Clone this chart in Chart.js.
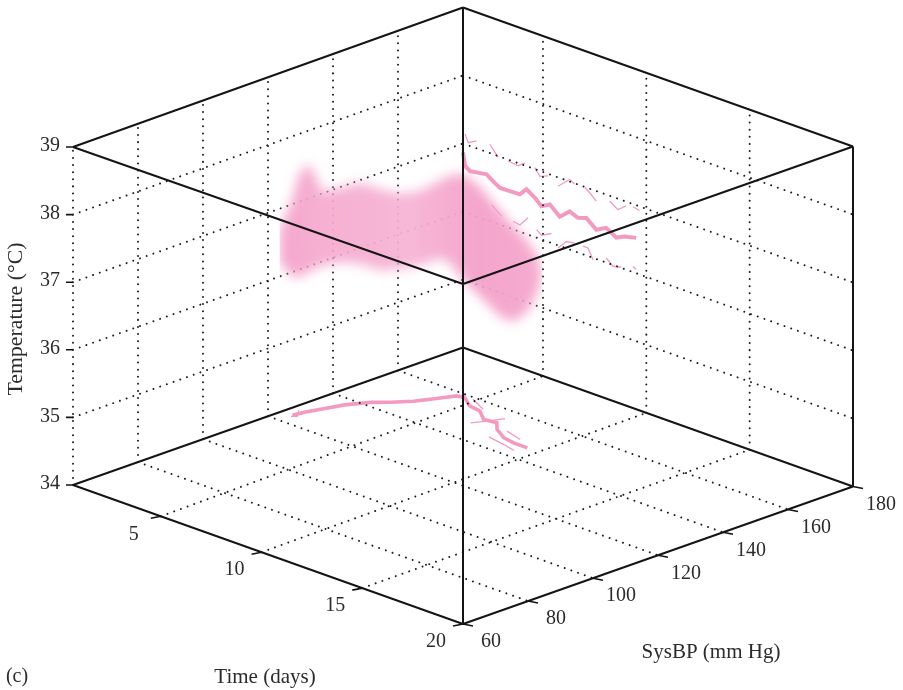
<!DOCTYPE html>
<html>
<head>
<meta charset="utf-8">
<style>
  body { margin: 0; background: #fff; }
  canvas { display: block; }
</style>
<script src="https://cdn.jsdelivr.net/npm/chart.js@4"></script>
</head>
<body>
<canvas id="chart" width="903" height="690"></canvas>
<script>
const timeTicks = [5, 10, 15, 20];
const bpTicks = [60, 80, 100, 120, 140, 160, 180];
const tempTicks = [34, 35, 36, 37, 38, 39];

// mean track, shown on the floor of the box
const floorTime = [1.43, 1.53, 1.78, 2.03, 2.52, 3.0, 3.5, 3.88, 4.2, 4.5, 5.2, 5.8, 6.45, 7.0, 7.46, 8.2, 8.78, 9.45];
const floorBP = [124.2, 127.7, 132.2, 136.8, 142, 145.1, 149, 153.8, 158, 158.6, 155.7, 155, 152, 152.6, 149.7, 147.1, 146.4, 146.4];

// thin strands beside the track on the floor, null = gap
const strandTime = [1.46, 1.62, 1.25, null, 4.83, 5.76, null, 6.36, 6.65, 6.93, null, 7.82, 8.71, null, 7.76, 8.65, 9.29];
const strandBP = [123.5, 124.5, 127.4, null, 159.1, 156.3, null, 148.5, 151.7, 155.6, null, 150.5, 148.9, null, 145.2, 144.2, 143.2];

// mean track, shown on the back wall (SysBP = 180)
const wallTime = [1.13, 1.23, 1.47, 2.27, 2.59, 2.92, 3.88, 4.2, 4.6, 4.93, 5.33, 5.81, 6.29, 6.69, 7.1, 7.58, 8.06, 8.55, 8.95, 9.51];
const wallTemp = [36.87, 36.68, 36.63, 36.67, 36.6, 36.54, 36.55, 36.66, 36.58, 36.49, 36.56, 36.43, 36.56, 36.51, 36.55, 36.43, 36.51, 36.42, 36.48, 36.52];

// broken band above and below it on the same wall
const wallHighTime = [1.23, 1.39, 1.79, null, 2.43, 2.83, null, 3.32, 3.8, 4.12, null, 4.6, 4.85, 5.25, null, 5.73, 6.29, 6.53, null, 7.02, 7.26, 7.58, null, 8.23, 8.63, 9.03, null, 9.35, 9.67];
const wallHighTemp = [37.15, 37.04, 37.11, null, 37.13, 36.98, null, 36.98, 36.96, 37.04, null, 37.02, 36.92, 36.97, null, 36.87, 37.03, 36.99, null, 36.99, 36.94, 36.85, null, 36.92, 36.84, 36.94, null, 36.96, 36.94];
const wallLowTime = [2.52, 3.0, null, 3.56, 3.88, 4.28, null, 4.69, 4.93, 5.41, null, 5.73, 6.13, 6.53, null, 6.94, 7.18, 7.42, null, 8.06, 8.38, 8.79, null, 9.35, 9.51];
const wallLowTemp = [36.25, 36.13, null, 36.12, 36.1, 36.25, null, 36.12, 36.06, 36.14, null, 35.96, 36.1, 36.12, null, 36.12, 36.12, 35.97, null, 36.07, 35.98, 36.01, null, 36.08, 36.06];

// the blurred tube itself
const blobTime = [1.3, 1.43, 1.46, 1.55, 1.65, 1.74, 1.99, 2.33, 2.76, 3.22, 3.61, 3.93, 4.1, 4.45, 5.6, 6.89, 7.82, 8.78, 9.45, 9.94, 10.2];
const blobBP = [121, 123.7, 126.1, 128.1, 130, 131.5, 136.1, 140, 143.5, 146.8, 150.4, 154.6, 156.6, 158.4, 155.3, 151.2, 148.4, 146.4, 146.4, 146.3, 146.2];
const blobHigh = [36.77, 37.14, 37.52, 37.66, 37.47, 37.2, 37.21, 37.25, 37.14, 37.06, 37.09, 37.2, 37.26, 37.29, 37.32, 37.31, 37.28, 37.2, 37.05, 36.9, 36.67];
const blobLow = [36.3, 36.07, 36.0, 36.05, 36.08, 36.11, 36.11, 36.05, 35.94, 35.96, 35.99, 36.06, 35.97, 35.73, 35.71, 35.72, 35.72, 35.78, 36.0, 36.32, 36.6];

const timeMin = 0;  // clamped to the near edge of the box
const timeMax = 20;
const bpMin = 60;
const bpMax = 180;
const tempMin = 34;
const tempMax = 39;

const pink = '#f49ac1';
const ink = '#141414';
const labelFont = '"Liberation Serif", serif';

// oblique view of the box, the original is very slightly skewed so start and scale drift a bit
function project(time, bp, temp) {
  if (time === null || bp === null || temp === null) return { x: NaN, y: NaN };
  const v = (bp - bpMin) / (bpMax - bpMin);
  const start = 0.64 + 0.49 * v;
  const u = Math.max(0, (time - start) / (timeMax - start));
  return {
    x: 73 + 390 * u + 390 * v,
    y: 485 + 139 * u - 137.5 * v - (temp - tempMin) * (67.6 + 0.4 * Math.max(u, v))
  };
}

function segments(list) {
  const points = [];
  list.forEach(s => {
    points.push(project(s[0], s[1], s[2]), project(s[3], s[4], s[5]), { x: NaN, y: NaN });
  });
  return points;
}

function gridPoints() {
  const list = [];
  const innerTimes = timeTicks.slice(0, -1);
  const innerBP = bpTicks.slice(1, -1);
  const innerTemps = tempTicks.slice(1, -1);
  innerTimes.forEach(t => {
    list.push([t, bpMin, tempMin, t, bpMax, tempMin]);
    list.push([t, bpMax, tempMin, t, bpMax, tempMax]);
  });
  innerBP.forEach(b => {
    list.push([timeMin, b, tempMin, timeMax, b, tempMin]);
    list.push([timeMin, b, tempMin, timeMin, b, tempMax]);
  });
  innerTemps.forEach(c => {
    list.push([timeMin, bpMin, c, timeMin, bpMax, c]);
    list.push([timeMin, bpMax, c, timeMax, bpMax, c]);
  });
  list.push([timeMin, bpMin, tempMin, timeMin, bpMin, tempMax]);
  return segments(list);
}

function boxPoints() {
  const list = [];
  [tempMin, tempMax].forEach(c => {
    list.push([timeMin, bpMin, c, timeMax, bpMin, c]);
    list.push([timeMax, bpMin, c, timeMax, bpMax, c]);
    list.push([timeMax, bpMax, c, timeMin, bpMax, c]);
    list.push([timeMin, bpMax, c, timeMin, bpMin, c]);
  });
  list.push([timeMax, bpMin, tempMin, timeMax, bpMin, tempMax]);
  list.push([timeMax, bpMax, tempMin, timeMax, bpMax, tempMax]);
  list.push([timeMin, bpMax, tempMin, timeMin, bpMax, tempMax]);
  return segments(list);
}

function tickPoints() {
  const points = [];
  const mark = (p, dx, dy) => {
    points.push(p, { x: p.x + dx, y: p.y + dy }, { x: NaN, y: NaN });
  };
  tempTicks.forEach(c => mark(project(timeMin, bpMin, c), -7, 0));
  timeTicks.forEach(t => mark(project(t, bpMin, tempMin), -10, 2));
  bpTicks.forEach(b => mark(project(timeMax, b, tempMin), 10, 2));
  return points;
}

function line(points, color, width, extra) {
  return Object.assign({
    data: points,
    showLine: true,
    borderColor: color,
    borderWidth: width,
    pointRadius: 0,
    tension: 0,
    fill: false
  }, extra);
}

function blobColor(canvas) {
  const gradient = canvas.getContext('2d').createLinearGradient(283, 0, 541, 0);
  gradient.addColorStop(0, 'rgba(244,160,201,0.93)');
  gradient.addColorStop(0.15, 'rgba(245,170,207,0.93)');
  gradient.addColorStop(0.5, 'rgba(246,178,212,0.93)');
  gradient.addColorStop(0.75, 'rgba(244,160,201,0.95)');
  gradient.addColorStop(1, 'rgba(244,166,204,0.95)');
  return gradient;
}

const canvas = document.querySelector('#chart');
const floorPoints = floorTime.map((t, i) => project(t, floorBP[i], tempMin));
const strandPoints = strandTime.map((t, i) => project(t, strandBP[i], tempMin));
const wallPoints = wallTime.map((t, i) => project(t, bpMax, wallTemp[i]));
const wallHighPoints = wallHighTime.map((t, i) => project(t, bpMax, wallHighTemp[i]));
const wallLowPoints = wallLowTime.map((t, i) => project(t, bpMax, wallLowTemp[i]));
const blobTop = blobTime.map((t, i) => project(t, blobBP[i], blobHigh[i]));
const blobBottom = blobTime.map((t, i) => project(t, blobBP[i], blobLow[i]));

const GRID = 5;
const BLOB = 6;

const datasets = [
  line(wallPoints, pink, 4, { order: 7 }),
  line(wallHighPoints, pink, 1.3, { order: 7 }),
  line(wallLowPoints, pink, 1.3, { order: 7 }),
  line(floorPoints, pink, 3.6, { order: 7 }),
  line(strandPoints, pink, 1.3, { order: 7 }),
  line(gridPoints(), '#1c1c1c', 2, { order: 6, borderDash: [0.01, 7.1], borderCapStyle: 'round' }),
  line(blobTop, 'rgba(0,0,0,0)', 0, { order: 5, fill: { target: '+1' }, backgroundColor: blobColor(canvas) }),
  line(blobBottom, 'rgba(0,0,0,0)', 0, { order: 4 }),
  line(boxPoints(), ink, 2, { order: 2 }),
  line(tickPoints(), ink, 1.6, { order: 1 })
];

// the filler paints in its own beforeDatasetDraw, so the blur has to be on before that
const blurBlob = {
  id: 'blurBlob',
  afterDatasetDraw(chart, args) {
    if (args.index === GRID) chart.ctx.filter = 'blur(6px)';
    if (args.index === BLOB) chart.ctx.filter = 'none';
  }
};

const axisText = {
  id: 'axisText',
  afterDraw(chart) {
    const ctx = chart.ctx;
    ctx.save();
    ctx.fillStyle = '#2b2b2b';
    ctx.textBaseline = 'middle';
    ctx.font = '20px ' + labelFont;
    ctx.textAlign = 'right';
    tempTicks.forEach(c => {
      const p = project(timeMin, bpMin, c);
      ctx.fillText(String(c), p.x - 13, p.y - 1);
    });
    ctx.textAlign = 'center';
    timeTicks.forEach(t => {
      const p = project(t, bpMin, tempMin);
      ctx.fillText(String(t), p.x - 27, p.y + 18);
    });
    bpTicks.forEach(b => {
      const p = project(timeMax, b, tempMin);
      ctx.fillText(String(b), p.x + 28, p.y + 18);
    });
    ctx.fillText('(c)', 17, 677);
    ctx.font = '21px ' + labelFont;
    ctx.fillText('Time (days)', 265, 677);
    ctx.fillText('SysBP (mm Hg)', 711, 652);
    ctx.font = '21.8px ' + labelFont;
    ctx.translate(16, 319);
    ctx.rotate(-Math.PI / 2);
    ctx.fillText('Temperature (°C)', 0, 0);
    ctx.restore();
  }
};

new Chart(canvas, {
  type: 'scatter',
  data: { datasets },
  plugins: [blurBlob, axisText],
  options: {
    responsive: false,
    animation: false,
    events: [],
    layout: { padding: 0 },
    plugins: { legend: { display: false }, tooltip: { enabled: false } },
    scales: {
      x: { type: 'linear', min: 0, max: 903, display: false },
      y: { type: 'linear', min: 0, max: 690, reverse: true, display: false }
    }
  }
});
</script>
</body>
</html>
